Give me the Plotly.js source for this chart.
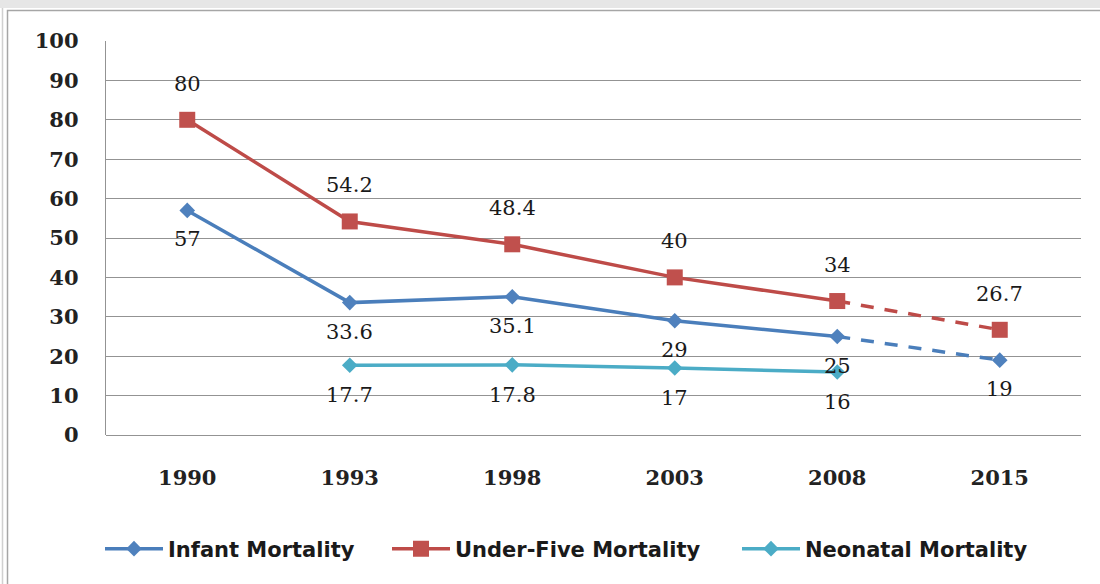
<!DOCTYPE html>
<html>
<head>
<meta charset="utf-8">
<script src="https://cdn.plot.ly/plotly-3.0.1.min.js"></script>
<style>
  html, body { margin: 0; padding: 0; background: #ffffff; }
  #chart { width: 1100px; height: 584px; }
</style>
</head>
<body>
<div id="chart"></div>
<script>
// Survey years (categorical x axis)
const years = ['1990', '1993', '1998', '2003', '2008', '2015'];

// Deaths per 1,000 live births
const infantMortality    = [57, 33.6, 35.1, 29, 25, 19];
const underFiveMortality = [80, 54.2, 48.4, 40, 34, 26.7];
const neonatalMortality  = [null, 17.7, 17.8, 17, 16, null];

// The last interval (2008 -> 2015) is drawn dashed
const splitIndex = 4;

const yTicks = [0, 10, 20, 30, 40, 50, 60, 70, 80, 90, 100];

const colors = {
  infant:    { line: '#4A7EBB', marker: '#4F81BD' },
  underFive: { line: '#BE4B48', marker: '#C0504D' },
  neonatal:  { line: '#4BACC6', marker: '#4BACC6' }
};

const W = 1100, H = 584;
const M = { l: 106, r: 19, t: 41, b: 149 };
const plotW = W - M.l - M.r, plotH = H - M.t - M.b;
const px = v => (v - M.l) / plotW;          // pixel x -> paper x
const py = v => (H - M.b - v) / plotH;      // pixel y -> paper y

function solid(name, ys, c, symbol, size, legendId) {
  return {
    type: 'scatter', mode: 'lines+markers', name: name, legend: legendId,
    x: years.slice(0, splitIndex + 1), y: ys.slice(0, splitIndex + 1),
    line: { color: c.line, width: 3.5 },
    marker: { symbol: symbol, size: size, color: c.marker, line: { width: 0 } },
    cliponaxis: false, hoverinfo: 'x+y'
  };
}
function dashed(name, ys, c, symbol, size) {
  return {
    type: 'scatter', mode: 'lines+markers', name: name, showlegend: false,
    x: years.slice(splitIndex), y: ys.slice(splitIndex),
    line: { color: c.line, width: 3.5, dash: '13px,11px' },
    marker: { symbol: symbol, size: size, color: c.marker, line: { width: 0 },
              opacity: [0, 1] },
    cliponaxis: false, hoverinfo: 'x+y'
  };
}

const traces = [
  dashed('Infant Mortality', infantMortality, colors.infant, 'diamond', 12),
  dashed('Under-Five Mortality', underFiveMortality, colors.underFive, 'square', 16),
  solid('Infant Mortality', infantMortality, colors.infant, 'diamond', 12, 'legend'),
  solid('Under-Five Mortality', underFiveMortality, colors.underFive, 'square', 16, 'legend2'),
  solid('Neonatal Mortality', neonatalMortality, colors.neonatal, 'diamond', 12, 'legend3')
];

// Value labels, placed on the category index of each year
const labelFont = { family: 'DejaVu Serif', size: 21, color: '#1a1a1a' };
const annotations = [];
function addLabels(ys, shift) {
  ys.forEach((v, i) => {
    if (v === null || v === undefined) return;
    annotations.push({
      x: i, y: v, xref: 'x', yref: 'y', text: String(v),
      showarrow: false, yshift: shift, font: labelFont,
      xanchor: 'center', yanchor: 'middle'
    });
  });
}
addLabels(underFiveMortality, 36);
addLabels(infantMortality, -29);
addLabels(neonatalMortality, -30);

// Outer frame around the chart
const shapes = [
  { type: 'rect', xref: 'paper', yref: 'paper', layer: 'below',
    x0: px(-5), x1: px(W + 5), y0: py(8), y1: py(-5),
    fillcolor: '#e6e6e6', line: { width: 0 } },
  { type: 'line', xref: 'paper', yref: 'paper', layer: 'below',
    x0: px(2.5), x1: px(2.5), y0: py(8), y1: py(H + 5),
    line: { color: '#d0d0d0', width: 1.5 } },
  { type: 'rect', xref: 'paper', yref: 'paper', layer: 'below',
    x0: px(7.5), x1: px(W + 20), y0: py(10.5), y1: py(H + 20),
    fillcolor: 'rgba(0,0,0,0)', line: { color: '#a6a6a6', width: 1.5 } }
];

const legendFont = { family: 'DejaVu Sans', size: 21, color: '#1a1a1a', weight: 'bold' };
function legendAt(xPix) {
  return {
    orientation: 'h', x: px(xPix), xanchor: 'left', y: py(549), yanchor: 'middle',
    font: legendFont, itemwidth: 58, bgcolor: 'rgba(0,0,0,0)', borderwidth: 0
  };
}

const layout = {
  width: W, height: H,
  margin: M,
  paper_bgcolor: '#ffffff', plot_bgcolor: '#ffffff',
  showlegend: true,
  legend: legendAt(100),
  legend2: legendAt(387),
  legend3: legendAt(737),
  xaxis: {
    type: 'category', categoryorder: 'array', categoryarray: years,
    range: [-0.5, years.length - 0.5],
    showgrid: false, zeroline: false,
    showline: false, ticks: '',
    tickfont: { family: 'DejaVu Serif', size: 21, color: '#222222', weight: 'bold' },
    ticklabelstandoff: 28, fixedrange: true
  },
  yaxis: {
    range: [0, 100], tickvals: yTicks,
    showgrid: true, gridcolor: '#939393', gridwidth: 1.4,
    zeroline: true, zerolinecolor: '#939393', zerolinewidth: 1.4,
    showline: true, linecolor: '#939393', linewidth: 1.4,
    ticks: '', tickfont: { family: 'DejaVu Serif', size: 21, color: '#222222', weight: 'bold' },
    ticklabelstandoff: 22, fixedrange: true
  },
  annotations: annotations,
  shapes: shapes
};

Plotly.newPlot('chart', traces, layout, { displayModeBar: false });
</script>
</body>
</html>
